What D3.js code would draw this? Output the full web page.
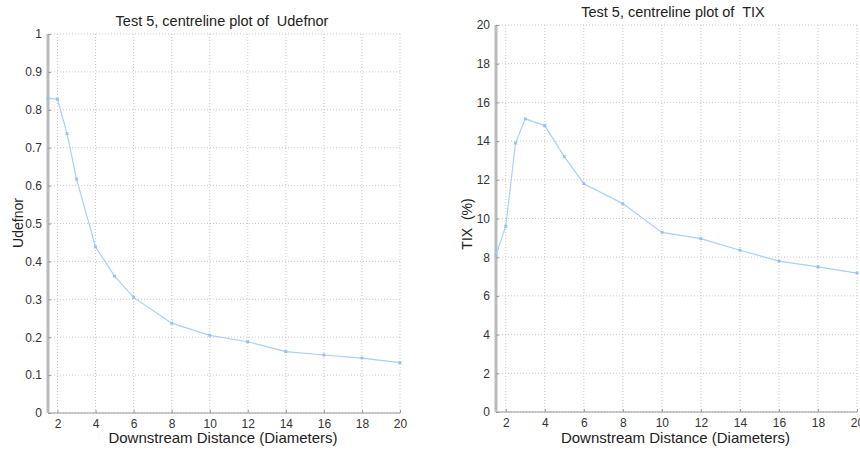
<!DOCTYPE html>
<html>
<head>
<meta charset="utf-8">
<script src="https://cdn.jsdelivr.net/npm/d3@7"></script>
<style>
  body { margin: 0; background: #fff; }
  text { font-family: "Liberation Sans", Arial, sans-serif; fill: #333; }
</style>
</head>
<body>
<script>
// downstream positions (diameters)
const distance = [1.5, 2, 2.5, 3, 4, 5, 6, 8, 10, 12, 14, 16, 18, 20]
const udefnor  = [0.83, 0.828, 0.737, 0.617, 0.438, 0.361, 0.305, 0.237, 0.205, 0.188, 0.162, 0.153, 0.145, 0.133]
const tix      = [8.1, 9.6, 13.9, 15.15, 14.8, 13.2, 11.8, 10.77, 9.28, 8.96, 8.36, 7.8, 7.5, 7.18]
const xTicks   = [2, 4, 6, 8, 10, 12, 14, 16, 18, 20]
const udefTicks = [0, 0.1, 0.2, 0.3, 0.4, 0.5, 0.6, 0.7, 0.8, 0.9, 1]
const tixTicks  = [0, 2, 4, 6, 8, 10, 12, 14, 16, 18, 20]

const W = 860, H = 450
const svg = d3.select("body").append("svg")
    .attr("width", W)
    .attr("height", H)

function drawPanel(p){
    let g = svg.append("g")
    let x = d3.scaleLinear().domain([1.5, 20]).range([p.left, p.right])
    let y = d3.scaleLinear().domain(p.yDomain).range([p.bottom, p.top])

    // dotted grid
    g.append("g").selectAll("line").data(xTicks).join("line")
        .attr("x1", d => x(d)).attr("x2", d => x(d))
        .attr("y1", p.top).attr("y2", p.bottom)
        .style("stroke", "#c8c8c8").style("stroke-dasharray", "1,2")
    g.append("g").selectAll("line").data(p.yTicks).join("line")
        .attr("x1", p.left).attr("x2", p.right)
        .attr("y1", d => y(d)).attr("y2", d => y(d))
        .style("stroke", "#c8c8c8").style("stroke-dasharray", "1,2")

    // axes
    let xAxis = d3.axisBottom(x).tickValues(xTicks).tickSize(-3).tickPadding(6)
    let yAxis = d3.axisLeft(y).tickValues(p.yTicks).tickSize(-3).tickPadding(6).tickFormat(d3.format("~g"))
    let gx = g.append("g").attr("transform", `translate(0,${p.bottom})`).call(xAxis)
    let gy = g.append("g").attr("transform", `translate(${p.left},0)`).call(yAxis)
    gx.select(".domain").style("stroke", "#999").attr("d", `M${p.left},0H${p.right}`)
    gy.select(".domain").style("stroke", "#bbb").style("stroke-width", 3).attr("d", `M0,${p.top}V${p.bottom}`)
    g.selectAll(".tick line").style("stroke", "#999")
    g.selectAll(".tick text").style("font-size", "12px").style("fill", "#333")

    // series line + markers
    let line = d3.line().x(d => x(d[0])).y(d => y(d[1]))
    let pts = distance.map((d, i) => [d, p.values[i]])
    g.append("path").datum(pts).attr("d", line)
        .style("fill", "none").style("stroke", "#a9cfff").style("stroke-width", 1.2)
    g.append("g").selectAll("path").data(pts).join("path")
        .attr("d", d3.symbol(d3.symbolCross, 8))
        .attr("transform", d => `translate(${x(d[0])},${y(d[1])}) rotate(45)`)
        .style("fill", "#8fbff5")

    // texts
    g.append("text").attr("x", p.titleX).attr("y", p.titleY).attr("text-anchor", "middle")
        .style("font-size", "14.5px").style("fill", "#222").style("white-space", "pre").text(p.title)
    g.append("text").attr("x", (p.left + p.right) / 2 - 1).attr("y", 443).attr("text-anchor", "middle")
        .style("font-size", "15px").style("fill", "#222").text("Downstream Distance (Diameters)")
    g.append("text").attr("transform", `translate(${p.yLabX},${p.yLabY}) rotate(-90)`)
        .attr("text-anchor", "middle").style("font-size", "14px").style("fill", "#222")
        .style("white-space", "pre").text(p.yLabel)
}

drawPanel({left: 48, right: 400, top: 34, bottom: 413, yDomain: [0, 1], yTicks: udefTicks,
    values: udefnor, title: "Test 5, centreline plot of  Udefnor", titleX: 222, titleY: 26,
    yLabel: "Udefnor", yLabX: 23, yLabY: 223})

drawPanel({left: 496, right: 857, top: 25, bottom: 412, yDomain: [0, 20], yTicks: tixTicks,
    values: tix, title: "Test 5, centreline plot of  TIX", titleX: 673, titleY: 17,
    yLabel: "TIX  (%)", yLabX: 472, yLabY: 224})
</script>
</body>
</html>
